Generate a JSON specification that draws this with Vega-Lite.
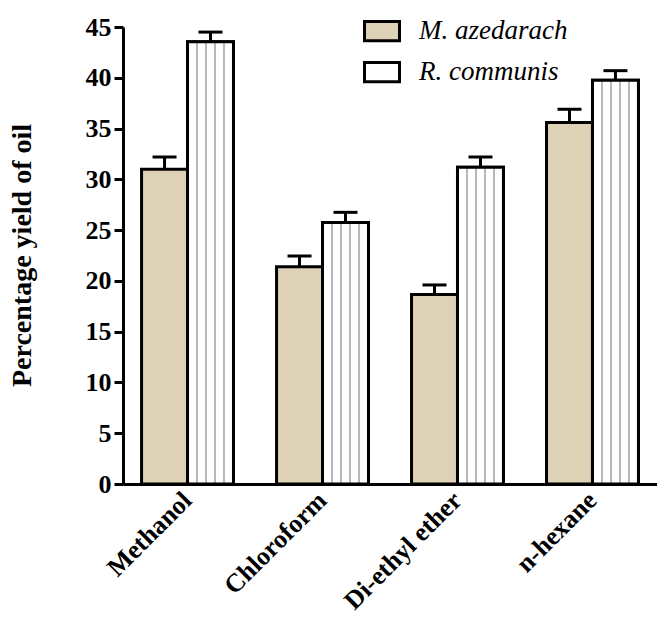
{
  "$schema": "https://vega.github.io/schema/vega-lite/v6.json",
  "width": 534,
  "height": 457,
  "autosize": "none",
  "padding": {"left": 123, "top": 27, "right": 0, "bottom": 135},
  "background": "white",
  "config": {
    "view": {"stroke": null},
    "font": "Liberation Serif",
    "axis": {
      "labelFont": "Liberation Serif",
      "labelFontWeight": "bold",
      "labelColor": "black",
      "titleFont": "Liberation Serif",
      "titleFontWeight": "bold",
      "titleColor": "black",
      "domainColor": "black",
      "domainWidth": 3,
      "tickColor": "black",
      "tickWidth": 3,
      "grid": false
    }
  },
  "data": {
    "values": [
      {"solvent": "Methanol", "species": "M. azedarach", "mean": 31.0, "upper": 32.2},
      {"solvent": "Methanol", "species": "R. communis", "mean": 43.55, "upper": 44.5},
      {"solvent": "Chloroform", "species": "M. azedarach", "mean": 21.4, "upper": 22.45},
      {"solvent": "Chloroform", "species": "R. communis", "mean": 25.75, "upper": 26.75},
      {"solvent": "Di-ethyl ether", "species": "M. azedarach", "mean": 18.65, "upper": 19.6},
      {"solvent": "Di-ethyl ether", "species": "R. communis", "mean": 31.2, "upper": 32.2},
      {"solvent": "n-hexane", "species": "M. azedarach", "mean": 35.6, "upper": 36.9},
      {"solvent": "n-hexane", "species": "R. communis", "mean": 39.75, "upper": 40.7}
    ]
  },
  "encoding": {
    "x": {
      "field": "solvent",
      "type": "nominal",
      "sort": ["Methanol", "Chloroform", "Di-ethyl ether", "n-hexane"],
      "scale": {"paddingInner": 0.319, "paddingOuter": 0.1375},
      "axis": {
        "title": null,
        "ticks": false,
        "labelAngle": -45,
        "labelAlign": "right",
        "labelBaseline": "middle",
        "labelFontSize": 26,
        "labelPadding": 12,
        "labelLimit": 300
      }
    },
    "xOffset": {
      "field": "species",
      "type": "nominal",
      "scale": {"domain": ["M. azedarach", "R. communis"], "paddingInner": 0, "paddingOuter": 0}
    }
  },
  "layer": [
    {
      "mark": {"type": "bar", "stroke": "black", "strokeWidth": 3, "fillOpacity": 1},
      "encoding": {
        "y": {
          "field": "mean",
          "type": "quantitative",
          "scale": {"domain": [0, 45], "nice": false},
          "axis": {
            "title": "Percentage yield of oil",
            "values": [0, 5, 10, 15, 20, 25, 30, 35, 40, 45],
            "labelFontSize": 26,
            "labelPadding": 3,
            "tickSize": 9,
            "titleFontSize": 28,
            "titleX": -101,
            "titleY": 228,
            "titleAngle": -90,
            "titleAlign": "center",
            "titleBaseline": "middle"
          }
        },
        "color": {
          "field": "species",
          "type": "nominal",
          "scale": {"domain": ["M. azedarach", "R. communis"], "range": ["#ddd2b6", "#ffffff"]},
          "legend": {
            "title": null,
            "orient": "none",
            "legendX": 240,
            "legendY": -15,
            "symbolType": "M-1,-0.55H1V0.55H-1Z",
            "symbolSize": 1225,
            "symbolStrokeColor": "black",
            "symbolStrokeWidth": 3,
            "symbolOpacity": 1,
            "labelFont": "Liberation Serif",
            "labelFontStyle": "italic",
            "labelFontSize": 27,
            "labelColor": "black",
            "labelOffset": 18,
            "rowPadding": 6,
            "labelLimit": 300,
            "encode": {
              "symbols": {
                "update": {
                  "stroke": {"value": "black"},
                  "strokeWidth": {"value": 3},
                  "opacity": {"value": 1},
                  "fillOpacity": {"value": 1},
                  "fill": [
                    {
                      "test": "datum.value === 'R. communis'",
                      "value": {
                        "gradient": "linear",
                        "x1": 0, "y1": 0, "x2": 1, "y2": 0,
                        "stops": [
                          {"offset": 0, "color": "#ffffff"},
                          {"offset": 0.27, "color": "#ffffff"},
                          {"offset": 0.27, "color": "#b8b8bc"},
                          {"offset": 0.32, "color": "#b8b8bc"},
                          {"offset": 0.32, "color": "#ffffff"},
                          {"offset": 0.47, "color": "#ffffff"},
                          {"offset": 0.47, "color": "#b8b8bc"},
                          {"offset": 0.52, "color": "#b8b8bc"},
                          {"offset": 0.52, "color": "#ffffff"},
                          {"offset": 0.67, "color": "#ffffff"},
                          {"offset": 0.67, "color": "#b8b8bc"},
                          {"offset": 0.72, "color": "#b8b8bc"},
                          {"offset": 0.72, "color": "#ffffff"},
                          {"offset": 1, "color": "#ffffff"}
                        ]
                      }
                    },
                    {"value": "#ddd2b6"}
                  ]
                }
              }
            }
          }
        }
      }
    },
    {
      "transform": [{"filter": "datum.species === 'R. communis'"}],
      "mark": {
        "type": "bar",
        "stroke": "black",
        "strokeWidth": 3,
        "fill": {
          "gradient": "linear",
          "x1": 0, "y1": 0, "x2": 1, "y2": 0,
          "stops": [
            {"offset": 0, "color": "#ffffff"},
            {"offset": 0.18, "color": "#ffffff"},
            {"offset": 0.18, "color": "#b8b8bc"},
            {"offset": 0.22, "color": "#b8b8bc"},
            {"offset": 0.22, "color": "#ffffff"},
            {"offset": 0.39, "color": "#ffffff"},
            {"offset": 0.39, "color": "#b8b8bc"},
            {"offset": 0.43, "color": "#b8b8bc"},
            {"offset": 0.43, "color": "#ffffff"},
            {"offset": 0.57, "color": "#ffffff"},
            {"offset": 0.57, "color": "#b8b8bc"},
            {"offset": 0.61, "color": "#b8b8bc"},
            {"offset": 0.61, "color": "#ffffff"},
            {"offset": 0.78, "color": "#ffffff"},
            {"offset": 0.78, "color": "#b8b8bc"},
            {"offset": 0.82, "color": "#b8b8bc"},
            {"offset": 0.82, "color": "#ffffff"},
            {"offset": 1, "color": "#ffffff"}
          ]
        }
      },
      "encoding": {
        "y": {"field": "mean", "type": "quantitative"}
      }
    },
    {
      "mark": {"type": "rule", "color": "black", "strokeWidth": 3},
      "encoding": {
        "y": {"field": "mean", "type": "quantitative"},
        "y2": {"field": "upper"}
      }
    },
    {
      "mark": {"type": "tick", "color": "black", "thickness": 3, "size": 24, "opacity": 1},
      "encoding": {
        "y": {"field": "upper", "type": "quantitative"}
      }
    }
  ]
}
